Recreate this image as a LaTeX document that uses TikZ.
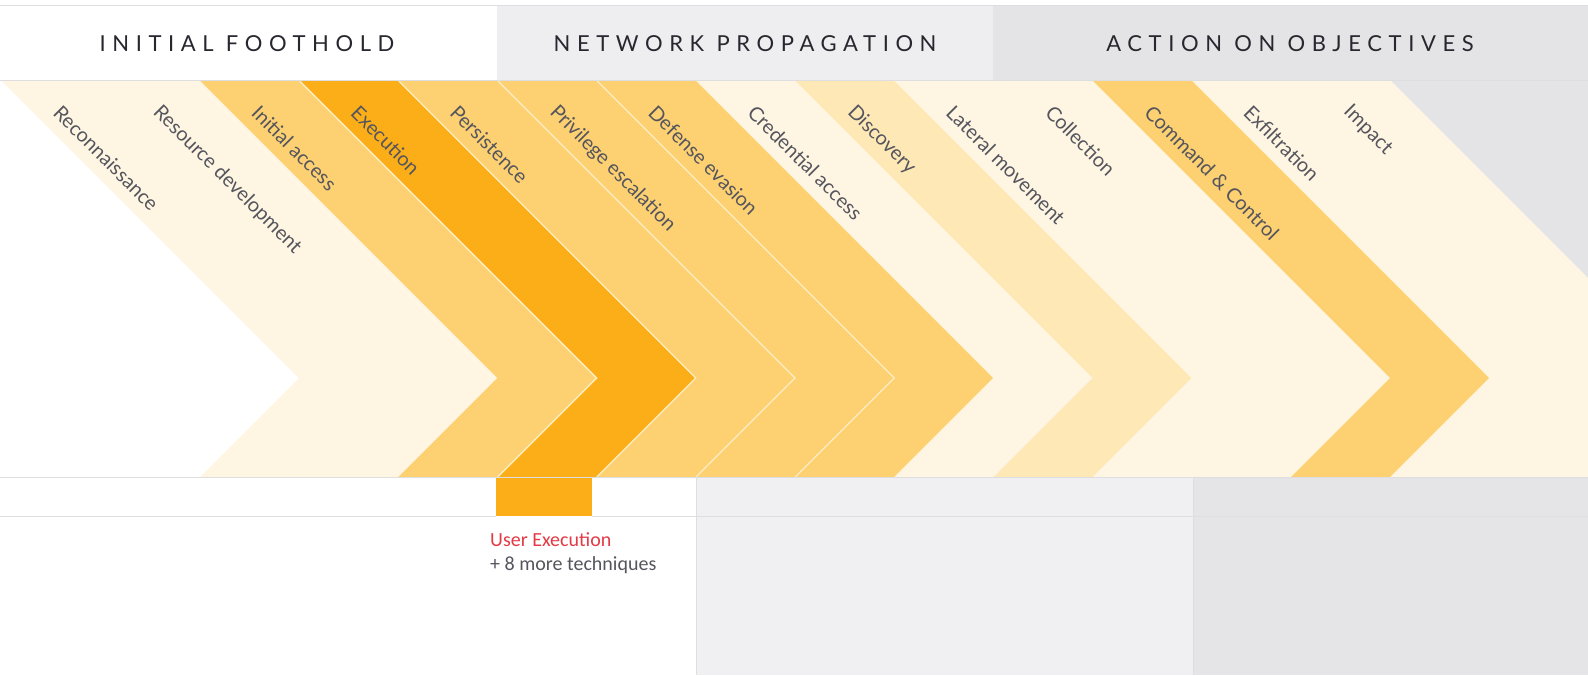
\documentclass[tikz,border=0pt]{standalone}
\usepackage{fontspec}
\setmainfont{Lato}
\newfontfamily\phasefont[LetterSpace=30]{Lato}
\newfontfamily\notefont{Carlito}
\usepackage{tikz}
\usetikzlibrary{positioning}
\definecolor{cream}{HTML}{FEF5E2}
\definecolor{pale}{HTML}{FEE8B6}
\definecolor{lorange}{HTML}{FDD171}
\definecolor{dorange}{HTML}{FBAE17}
\definecolor{hdrlight}{HTML}{EEEEF0}
\definecolor{hdrgray}{HTML}{E4E4E6}
\definecolor{botlight}{HTML}{F0F0F2}
\definecolor{botgray}{HTML}{E5E5E7}
\definecolor{rule}{HTML}{DEDEE1}
\definecolor{seam}{HTML}{FDEDC4}
\definecolor{ink}{HTML}{27272F}
\definecolor{tacink}{HTML}{55555E}
\definecolor{techred}{HTML}{E33A45}

\begin{document}
\begin{tikzpicture}[x=1pt,y=-1pt]
  \tikzset{phase/.style = {inner sep=0pt, text=ink, font=\phasefont\fontsize{22}{26}\selectfont}}
  \tikzset{tactic/.style = {inner sep=0pt, rotate=-45, anchor=west, text=tacink, font=\fontsize{20}{24}\selectfont}}
  \tikzset{note/.style = {inner sep=0pt, anchor=north west, text height=15pt, text depth=5pt, font=\notefont\fontsize{20}{24}\selectfont}}
  \tikzset{seamline/.style = {draw=seam, line width=1.3pt}}

  \useasboundingbox (0,0) rectangle (1588,675);
  \fill[white] (0,0) rectangle (1588,675);

  % phase header
  \fill[hdrlight] (497,5) rectangle (993,80);
  \fill[hdrgray] (993,5) rectangle (1588,80);
  \draw[rule] (0,5) -- (1588,5);
  \draw[rule] (0,80) -- (1588,80);

  \node[phase] (foothold) at (247,44) {INITIAL FOOTHOLD};
  \node[phase] (propagation) at (745,44) {NETWORK PROPAGATION};
  \node[phase] (objectives) at (1290,44) {ACTION ON OBJECTIVES};

  % chevrons
  \begin{scope}
    \clip (0,81) rectangle (1588,477);
    \fill[hdrgray] ({2+99.2*14},81) -- ({299+99.2*14},378) -- ({200+99.2*14},477)
      -- (1700,477) -- (1700,81) -- cycle;
    \foreach \i/\col in {0/cream, 1/cream, 2/lorange, 3/dorange, 4/lorange, 5/lorange,
                         6/lorange, 7/cream, 8/pale, 9/cream, 10/cream, 11/lorange,
                         12/cream, 13/cream}
      \fill[\col] ({2+99.2*\i},81) -- ({299+99.2*\i},378) -- ({200+99.2*\i},477)
        -- ({200+99.2*(\i+1)},477) -- ({299+99.2*(\i+1)},378) -- ({2+99.2*(\i+1)},81) -- cycle;
    \foreach \i in {3,4,5,6}
      \draw[seamline] ({2+99.2*\i},81) -- ({299+99.2*\i},378) -- ({200+99.2*\i},477);
  \end{scope}

  \foreach \i/\name in {0/Reconnaissance, 1/Resource development, 2/Initial access,
                        3/Execution, 4/Persistence, 5/Privilege escalation,
                        6/Defense evasion, 7/Credential access, 8/Discovery,
                        9/Lateral movement, 10/Collection, 11/Command \& Control,
                        12/Exfiltration, 13/Impact}
    \node[tactic] (tactic\i) at ({57+99.2*\i},109) {\name};

  % technique strip
  \fill[botlight] (696,477) rectangle (1193,675);
  \fill[botgray] (1193,477) rectangle (1588,675);
  \fill[dorange] (496,477) rectangle (592,516);
  \draw[rule] (0,477) -- (1588,477);
  \draw[rule] (0,516) -- (496,516);
  \draw[rule] (592,516) -- (1588,516);
  \draw[rule] (696,477) -- (696,675);
  \draw[rule] (1193,477) -- (1193,675);

  \node[note, text=techred] (userexec) at (490,531) {User Execution};
  \node[note, text=tacink, below=4pt of userexec.south west, anchor=north west] (moretech) {+ 8 more techniques};
\end{tikzpicture}
\end{document}
